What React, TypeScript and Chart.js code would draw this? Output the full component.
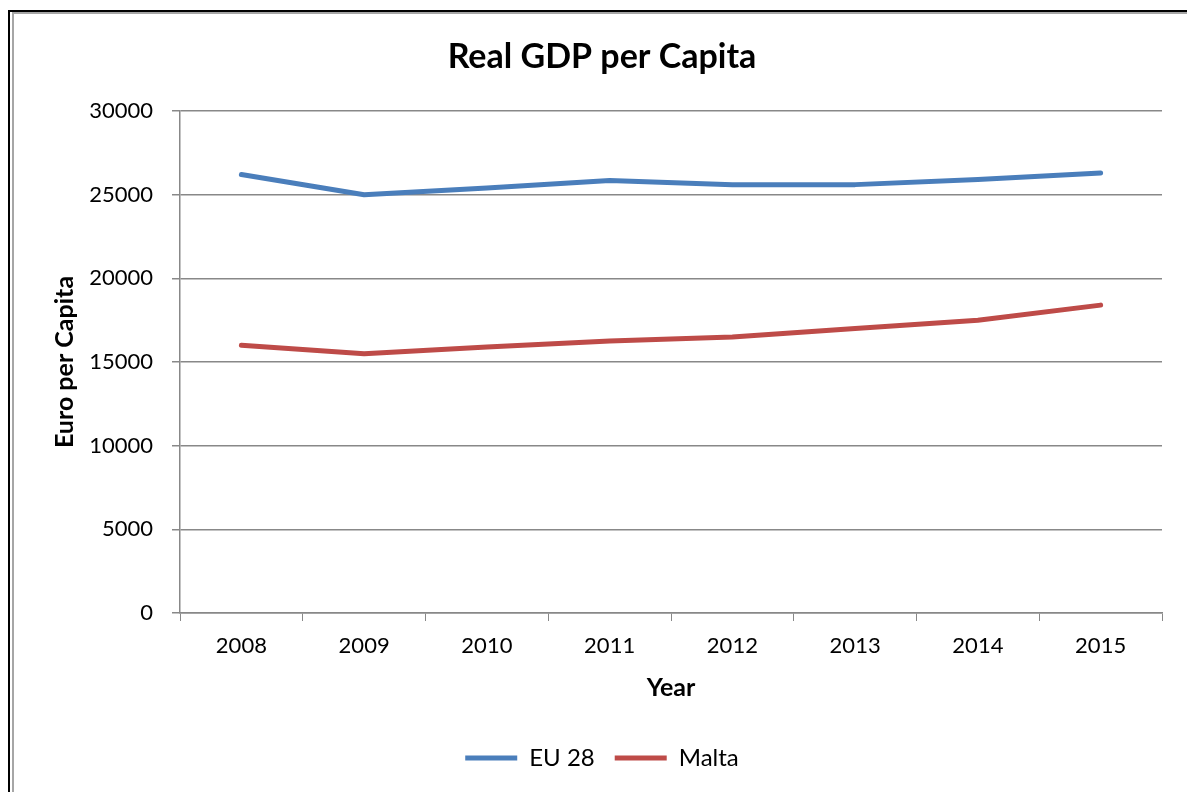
import React, { useEffect, useRef } from "react";
import { Chart, registerables } from "chart.js";

Chart.register(...registerables);

const years = ["2008", "2009", "2010", "2011", "2012", "2013", "2014", "2015"];
const eu28 = [26200, 25000, 25400, 25850, 25600, 25600, 25900, 26300];
const malta = [16000, 15500, 15900, 16250, 16500, 17000, 17500, 18400];
const yTicks = [0, 5000, 10000, 15000, 20000, 25000, 30000];

const FONT = "Lato, 'Open Sans', sans-serif";
const GRID = "#888888";

const framePlugin = {
  id: "frame",
  beforeDraw(chart: any) {
    const ctx = chart.ctx;
    const W = chart.width;
    const H = chart.height;
    ctx.save();
    ctx.fillStyle = "#ffffff";
    ctx.fillRect(0, 0, W, H);
    ctx.fillStyle = "#000000";
    ctx.fillRect(8, 10, 2, H - 10);
    ctx.fillRect(8, 10, W - 8, 2);
    ctx.fillStyle = "#a6a6a6";
    ctx.fillRect(12, 12, 2, H - 12);
    ctx.fillRect(12, 12, W - 12, 2);
    ctx.restore();
  },
};

export default function App() {
  const ref = useRef<HTMLCanvasElement>(null);
  useEffect(() => {
    if (!ref.current) return;
    const chart = new Chart(ref.current, {
      type: "line",
      data: {
        labels: years,
        datasets: [
          {
            label: "EU 28",
            data: eu28,
            borderColor: "#4A7EBB",
            backgroundColor: "#4A7EBB",
            borderWidth: 5,
            pointRadius: 0,
            tension: 0,
            borderCapStyle: "round",
            borderJoinStyle: "round",
          },
          {
            label: "Malta",
            data: malta,
            borderColor: "#BE4B48",
            backgroundColor: "#BE4B48",
            borderWidth: 5,
            pointRadius: 0,
            tension: 0,
            borderCapStyle: "round",
            borderJoinStyle: "round",
          },
        ],
      },
      plugins: [framePlugin],
      options: {
        responsive: false,
        animation: false,
        color: "#000",
        layout: { padding: { top: 12, left: 42, right: 25, bottom: 12 } },
        plugins: {
          title: {
            display: true,
            text: "Real GDP per Capita",
            color: "#000",
            font: { family: FONT, size: 34, weight: "bold" },
            padding: { top: 24.6, bottom: 33.6 },
          },
          legend: {
            position: "bottom",
            labels: {
              color: "#000",
              font: { family: FONT, size: 24 },
              usePointStyle: true,
              pointStyle: "line",
              pointStyleWidth: 52,
              padding: 20,
            },
          },
          tooltip: { enabled: false },
        },
        scales: {
          x: {
            offset: true,
            grid: {
              display: true,
              drawOnChartArea: false,
              drawTicks: true,
              tickLength: 8,
              offset: true,
              color: GRID,
              lineWidth: 1,
            },
            border: { display: true, color: GRID, width: 1.5 },
            ticks: {
              color: "#000",
              font: { family: FONT, size: 22 },
              padding: 12,
              maxRotation: 0,
            },
            title: {
              display: true,
              text: "Year",
              color: "#000",
              font: { family: FONT, size: 25, weight: "bold" },
              padding: { top: 0, bottom: 23 },
            },
            afterFit(scale: any) {
              scale.height = 113;
            },
          },
          y: {
            min: 0,
            max: 30000,
            afterBuildTicks(scale: any) {
              scale.ticks = yTicks.map((v) => ({ value: v }));
            },
            grid: {
              color: GRID,
              lineWidth: 1.5,
              drawTicks: true,
              tickLength: 8,
            },
            border: { display: true, color: GRID, width: 1.5 },
            ticks: {
              color: "#000",
              font: { family: FONT, size: 22 },
              padding: 19,
              callback: (v: any) => String(v),
            },
            title: {
              display: true,
              text: "Euro per Capita",
              color: "#000",
              font: { family: FONT, size: 25, weight: "bold" },
              padding: { top: 8, bottom: 0 },
            },
            afterFit(scale: any) {
              scale.width = 138;
            },
          },
        },
      },
    });
    return () => chart.destroy();
  }, []);
  return (
    <div style={{ position: "fixed", left: 0, top: 0, width: 1187, height: 792 }}>
      <canvas ref={ref} width={1187} height={792} />
    </div>
  );
}
